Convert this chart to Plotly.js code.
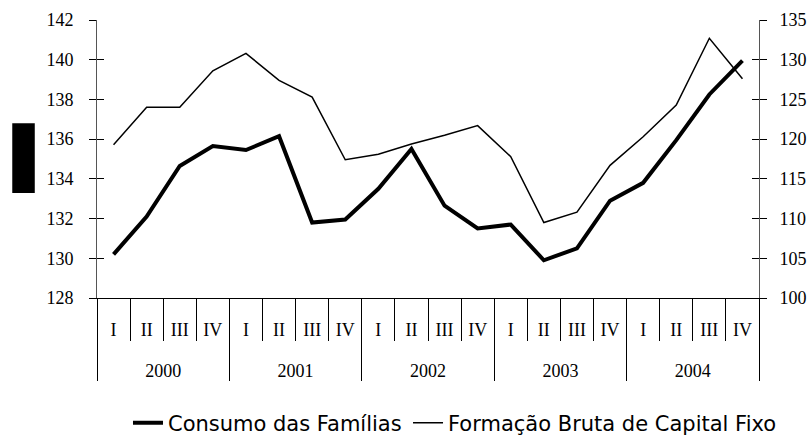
<!DOCTYPE html>
<html>
<head>
<meta charset="utf-8">
<script src="https://cdn.plot.ly/plotly-3.0.1.min.js"></script>
<style>
  body { margin: 0; background: #fff; }
  #chart { width: 807px; height: 437px; }
</style>
</head>
<body>
<div id="chart"></div>
<script>
var anos = ["2000", "2001", "2002", "2003", "2004"];
var trimestres = ["I", "II", "III", "IV"];

// Consumo das Famílias (eixo esquerdo)
var consumo = [130.2, 132.1, 134.65, 135.65, 135.45, 136.15, 131.8, 131.95,
               133.5, 135.5, 132.65, 131.5, 131.7, 129.9, 130.5, 132.9,
               133.8, 135.95, 138.25, 139.95];

// Formação Bruta de Capital Fixo (eixo direito)
var fbcf = [119.3, 124.0, 124.0, 128.6, 130.8, 127.4, 125.3, 117.4,
            118.1, 119.4, 120.5, 121.7, 117.8, 109.5, 110.8, 116.7,
            120.3, 124.3, 132.7, 127.6];

// posição de cada trimestre no eixo, rótulos e divisões
var xPos = [], xTri = [], limTri = [-0.5], limAno = [-0.5], centroAno = [];
anos.forEach(function (a, i) {
  trimestres.forEach(function (t, j) {
    var p = i * trimestres.length + j;
    xPos.push(p);
    xTri.push(t);
    limTri.push(p + 0.5);
  });
  limAno.push((i + 1) * trimestres.length - 0.5);
  centroAno.push(i * trimestres.length + (trimestres.length - 1) / 2);
});
var xRange = [-0.5, xPos.length - 0.5];

var serif = "Liberation Serif, Times New Roman, serif";
var sans = "DejaVu Sans, sans-serif";

var trace1 = {
  x: xPos,
  y: consumo,
  name: "Consumo das Famílias",
  type: "scatter",
  mode: "lines",
  line: { color: "#000", width: 4 },
  yaxis: "y",
  legend: "legend"
};

var trace2 = {
  x: xPos,
  y: fbcf,
  name: "Formação Bruta de Capital Fixo",
  type: "scatter",
  mode: "lines",
  line: { color: "#000", width: 1.5 },
  yaxis: "y2",
  legend: "legend2"
};

// traços vazios só para que os eixos auxiliares sejam desenhados
function vazio(xa, ya) {
  return { x: [], y: [], xaxis: xa, yaxis: ya, type: "scatter", mode: "lines",
           showlegend: false, hoverinfo: "skip" };
}
var extras = [vazio("x2", "y"), vazio("x3", "y"), vazio("x4", "y"),
              vazio("x", "y3"), vazio("x", "y4")];

var legendFont = { family: sans, size: 21, color: "#000" };
var tickFont = { family: serif, size: 18, color: "#000" };

var layout = {
  width: 807,
  height: 437,
  margin: { l: 97, r: 48, t: 20, b: 139 },
  paper_bgcolor: "#fff",
  plot_bgcolor: "#fff",
  showlegend: true,
  font: { family: serif, size: 18, color: "#000" },
  xaxis: {
    range: xRange,
    tickmode: "array",
    tickvals: xPos,
    ticktext: xTri,
    ticks: "",
    ticklabelstandoff: 15,
    showgrid: false,
    zeroline: false,
    showline: true,
    linecolor: "#000",
    linewidth: 1,
    tickfont: tickFont
  },
  xaxis2: {
    range: xRange,
    overlaying: "x",
    anchor: "y",
    side: "bottom",
    tickmode: "array",
    tickvals: limTri,
    ticks: "outside",
    ticklen: 42,
    tickcolor: "#000",
    showticklabels: false,
    showgrid: false,
    zeroline: false,
    showline: false
  },
  xaxis3: {
    range: xRange,
    overlaying: "x",
    anchor: "y",
    side: "bottom",
    tickmode: "array",
    tickvals: limAno,
    ticks: "outside",
    ticklen: 82,
    tickcolor: "#000",
    showticklabels: false,
    showgrid: false,
    zeroline: false,
    showline: false
  },
  xaxis4: {
    range: xRange,
    overlaying: "x",
    anchor: "y",
    side: "bottom",
    tickmode: "array",
    tickvals: centroAno,
    ticktext: anos,
    ticks: "",
    ticklabelstandoff: 60,
    showgrid: false,
    zeroline: false,
    showline: false,
    tickfont: tickFont
  },
  yaxis: {
    range: [128, 142],
    dtick: 2,
    showgrid: false,
    zeroline: false,
    showline: true,
    linecolor: "#555",
    ticks: "outside",
    ticklen: 7,
    tickcolor: "#000",
    ticklabelstandoff: 12,
    tickfont: tickFont
  },
  yaxis2: {
    range: [100, 135],
    dtick: 5,
    overlaying: "y",
    side: "right",
    showgrid: false,
    zeroline: false,
    showline: true,
    linecolor: "#555",
    ticks: "outside",
    ticklen: 7,
    tickcolor: "#000",
    ticklabelstandoff: 9,
    tickfont: tickFont
  },
  yaxis3: {
    range: [128, 142],
    dtick: 2,
    overlaying: "y",
    anchor: "x",
    side: "left",
    showgrid: false,
    zeroline: false,
    showline: false,
    ticks: "inside",
    ticklen: 7,
    tickcolor: "#000",
    showticklabels: false
  },
  yaxis4: {
    range: [100, 135],
    dtick: 5,
    overlaying: "y",
    anchor: "x",
    side: "right",
    showgrid: false,
    zeroline: false,
    showline: false,
    ticks: "inside",
    ticklen: 7,
    tickcolor: "#000",
    showticklabels: false
  },
  legend: {
    orientation: "h",
    xref: "container",
    yref: "container",
    x: 0.1586,
    xanchor: "left",
    y: 0.032,
    yanchor: "middle",
    font: legendFont,
    bgcolor: "rgba(0,0,0,0)"
  },
  legend2: {
    orientation: "h",
    xref: "container",
    yref: "container",
    x: 0.5056,
    xanchor: "left",
    y: 0.032,
    yanchor: "middle",
    font: legendFont,
    bgcolor: "rgba(0,0,0,0)"
  },
  shapes: [{
    type: "rect",
    xref: "paper", yref: "paper",
    x0: -0.128, x1: -0.094, y0: 0.378, y1: 0.629,
    fillcolor: "#000",
    line: { width: 0 }
  }]
};

Plotly.newPlot("chart", [trace1, trace2].concat(extras), layout,
  { displayModeBar: false, staticPlot: true });
</script>
</body>
</html>
